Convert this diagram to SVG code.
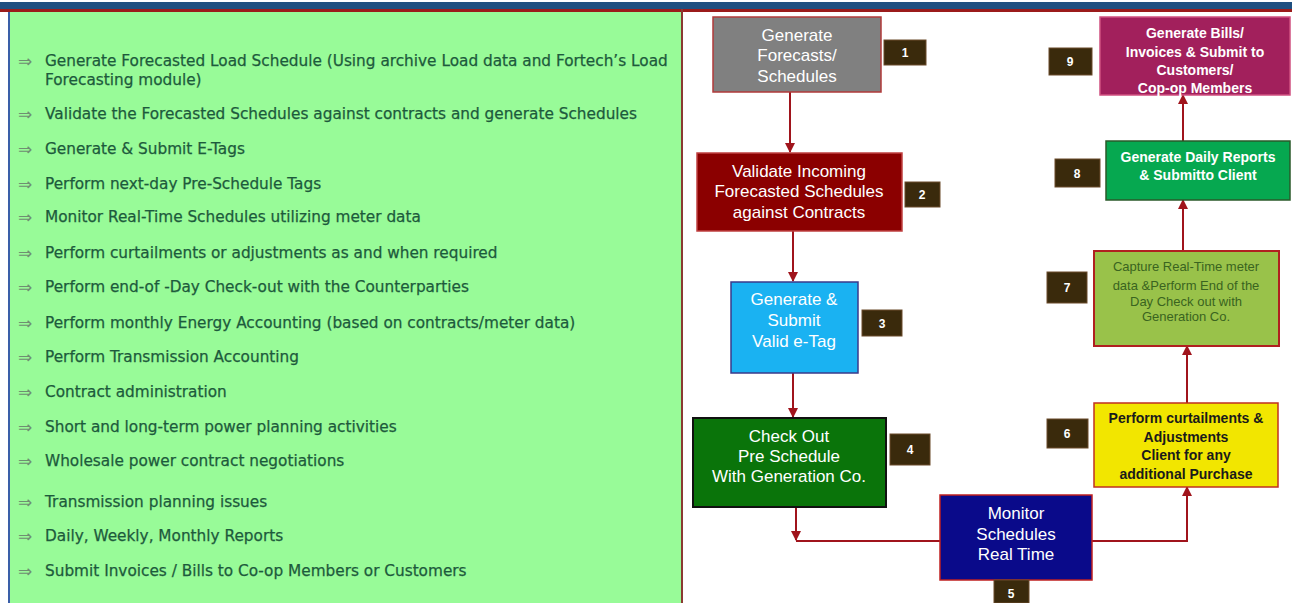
<svg xmlns="http://www.w3.org/2000/svg" width="1292" height="603" viewBox="0 0 1292 603">
<defs>
<style>
.li{font-family:"DejaVu Sans",Verdana,sans-serif;font-size:15.3px;fill:#1d5a3c;stroke:#1d5a3c;stroke-width:0.25}
.ar{font-family:"DejaVu Sans",sans-serif;font-size:17px;fill:#6f8f72}
.nt{font-family:"Liberation Sans",Arial,sans-serif;font-size:17px;fill:#ffffff;text-anchor:middle}
.nb{font-family:"Liberation Sans",Arial,sans-serif;font-size:14px;font-weight:bold;text-anchor:middle}
.n7{font-family:"Liberation Sans",Arial,sans-serif;font-size:13px;fill:#3a6420;text-anchor:middle}
.lab{fill:#3a2a0c;stroke:#6a4a2a;stroke-width:1}
.lt{font-family:"Liberation Sans",Arial,sans-serif;font-size:12px;font-weight:bold;fill:#ffffff;text-anchor:middle}
.cn{fill:none;stroke:#a0141c;stroke-width:2}
</style>
<marker id="ah" viewBox="0 0 10 10" refX="9" refY="5" markerWidth="5" markerHeight="5" orient="auto">
<path d="M0,0 L10,5 L0,10 z" fill="#a0141c"/>
</marker>
</defs>
<rect x="0" y="0" width="1292" height="603" fill="#ffffff"/>
<rect x="0" y="2" width="1292" height="7" fill="#1f4f80"/>
<rect x="0" y="9" width="1292" height="3" fill="#9b1b1b"/>
<rect x="9" y="12" width="672" height="591" fill="#98fb98"/>
<rect x="8" y="12" width="2" height="591" fill="#3a5fa8"/>
<rect x="681" y="9" width="2" height="594" fill="#8a3a32"/>
<g id="list">
<text class="ar" x="18" y="67">⇒</text><text class="li" x="45" y="66">Generate Forecasted Load Schedule (Using archive Load data and Fortech’s Load</text>
<text class="li" x="45" y="85">Forecasting module)</text>
<text class="ar" x="18" y="120">⇒</text><text class="li" x="45" y="119">Validate the Forecasted Schedules against contracts and generate Schedules</text>
<text class="ar" x="18" y="155">⇒</text><text class="li" x="45" y="154">Generate &amp; Submit E-Tags</text>
<text class="ar" x="18" y="190">⇒</text><text class="li" x="45" y="189">Perform next-day Pre-Schedule Tags</text>
<text class="ar" x="18" y="223">⇒</text><text class="li" x="45" y="222">Monitor Real-Time Schedules utilizing meter data</text>
<text class="ar" x="18" y="259">⇒</text><text class="li" x="45" y="258">Perform curtailments or adjustments as and when required</text>
<text class="ar" x="18" y="293">⇒</text><text class="li" x="45" y="292">Perform end-of -Day Check-out with the Counterparties</text>
<text class="ar" x="18" y="329">⇒</text><text class="li" x="45" y="328">Perform monthly Energy Accounting (based on contracts/meter data)</text>
<text class="ar" x="18" y="363">⇒</text><text class="li" x="45" y="362">Perform Transmission Accounting</text>
<text class="ar" x="18" y="398">⇒</text><text class="li" x="45" y="397">Contract administration</text>
<text class="ar" x="18" y="433">⇒</text><text class="li" x="45" y="432">Short and long-term power planning activities</text>
<text class="ar" x="18" y="467">⇒</text><text class="li" x="45" y="466">Wholesale power contract negotiations</text>
<text class="ar" x="18" y="508">⇒</text><text class="li" x="45" y="507">Transmission planning issues</text>
<text class="ar" x="18" y="542">⇒</text><text class="li" x="45" y="541">Daily, Weekly, Monthly Reports</text>
<text class="ar" x="18" y="577">⇒</text><text class="li" x="45" y="576">Submit Invoices / Bills to Co-op Members or Customers</text>
</g>
<g id="connectors">
<path class="cn" d="M790,92 L790,152" marker-end="url(#ah)"/>
<path class="cn" d="M793,231 L793,281" marker-end="url(#ah)"/>
<path class="cn" d="M793,373 L793,417" marker-end="url(#ah)"/>
<path class="cn" d="M796,508 L796,540" marker-end="url(#ah)"/>
<path class="cn" d="M796,541 L940,541"/>
<path class="cn" d="M1092,541 L1187,541 L1187,487" marker-end="url(#ah)"/>
<path class="cn" d="M1187,403 L1187,346" marker-end="url(#ah)"/>
<path class="cn" d="M1183,251 L1183,200" marker-end="url(#ah)"/>
<path class="cn" d="M1183,141 L1183,95" marker-end="url(#ah)"/>
</g>
<g id="n1">
<rect x="713" y="17" width="168" height="75" fill="#808080" stroke="#b03a3a" stroke-width="1.5"/>
<text class="nt" x="797" y="41">Generate</text>
<text class="nt" x="797" y="61">Forecasts/</text>
<text class="nt" x="797" y="82">Schedules</text>
<rect class="lab" x="884" y="40" width="42" height="25"/><text class="lt" x="905" y="57">1</text>
</g>
<g id="n2">
<rect x="697" y="153" width="205" height="78" fill="#8b0000" stroke="#c04040" stroke-width="1.5"/>
<text class="nt" x="799" y="177">Validate Incoming</text>
<text class="nt" x="799" y="197">Forecasted Schedules</text>
<text class="nt" x="799" y="218">against Contracts</text>
<rect class="lab" x="905" y="182" width="35" height="25"/><text class="lt" x="922" y="199">2</text>
</g>
<g id="n3">
<rect x="731" y="282" width="127" height="91" fill="#1ab2f2" stroke="#3a3a8a" stroke-width="1.5"/>
<text class="nt" x="794" y="305">Generate &amp;</text>
<text class="nt" x="794" y="326">Submit</text>
<text class="nt" x="794" y="347">Valid e-Tag</text>
<rect class="lab" x="862" y="310" width="40" height="26"/><text class="lt" x="882" y="328">3</text>
</g>
<g id="n4">
<rect x="693" y="418" width="193" height="89" fill="#0a740a" stroke="#111111" stroke-width="2"/>
<text class="nt" x="789" y="442">Check Out</text>
<text class="nt" x="789" y="462">Pre Schedule</text>
<text class="nt" x="789" y="482">With Generation Co.</text>
<rect class="lab" x="890" y="434" width="40" height="31"/><text class="lt" x="910" y="454">4</text>
</g>
<g id="n5">
<rect x="940" y="495" width="152" height="85" fill="#0a0a8a" stroke="#c02020" stroke-width="1.5"/>
<text class="nt" x="1016" y="519">Monitor</text>
<text class="nt" x="1016" y="540">Schedules</text>
<text class="nt" x="1016" y="560">Real Time</text>
<rect class="lab" x="994" y="580" width="35" height="23"/><text class="lt" x="1011" y="598">5</text>
</g>
<g id="n6">
<rect x="1094" y="403" width="184" height="84" fill="#f2e600" stroke="#c03020" stroke-width="1.5"/>
<text class="nb" x="1186" y="423" fill="#1a1a1a">Perform curtailments &amp;</text>
<text class="nb" x="1186" y="442" fill="#1a1a1a">Adjustments</text>
<text class="nb" x="1186" y="460" fill="#1a1a1a">Client for any</text>
<text class="nb" x="1186" y="479" fill="#1a1a1a">additional Purchase</text>
<rect class="lab" x="1047" y="419" width="41" height="29"/><text class="lt" x="1067" y="438">6</text>
</g>
<g id="n7">
<rect x="1094" y="251" width="185" height="95" fill="#99c24a" stroke="#b02020" stroke-width="2"/>
<text class="n7" x="1186" y="271">Capture Real-Time meter</text>
<text class="n7" x="1186" y="290">data &amp;Perform End of the</text>
<text class="n7" x="1186" y="306">Day Check out with</text>
<text class="n7" x="1186" y="321">Generation Co.</text>
<rect class="lab" x="1047" y="272" width="40" height="31"/><text class="lt" x="1067" y="292">7</text>
</g>
<g id="n8">
<rect x="1106" y="141" width="184" height="59" fill="#06a850" stroke="#2a5a2a" stroke-width="1.5"/>
<text class="nb" x="1198" y="162" fill="#ffffff">Generate Daily Reports</text>
<text class="nb" x="1198" y="180" fill="#ffffff">&amp; Submitto Client</text>
<rect class="lab" x="1055" y="159" width="45" height="28"/><text class="lt" x="1077" y="178">8</text>
</g>
<g id="n9">
<rect x="1100" y="17" width="190" height="78" fill="#a2205c" stroke="#d05080" stroke-width="1.5"/>
<text class="nb" x="1195" y="38" font-size="16" fill="#ffffff">Generate Bills/</text>
<text class="nb" x="1195" y="57" font-size="16" fill="#ffffff">Invoices &amp; Submit to</text>
<text class="nb" x="1195" y="75" font-size="16" fill="#ffffff">Customers/</text>
<text class="nb" x="1195" y="93" font-size="16" fill="#ffffff">Cop-op Members</text>
<rect class="lab" x="1049" y="48" width="43" height="27"/><text class="lt" x="1070" y="66">9</text>
</g>
</svg>
